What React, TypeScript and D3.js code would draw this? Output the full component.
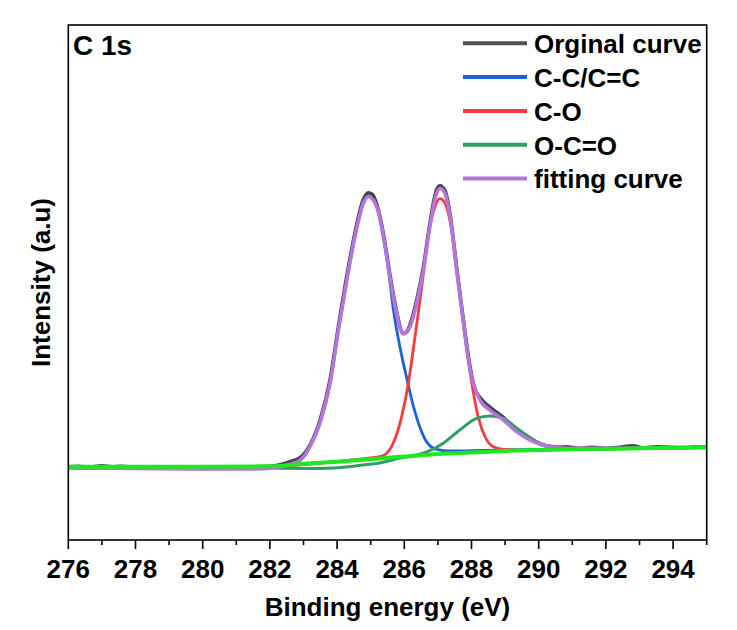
import React from "react";
import * as d3 from "d3";

type Pt = [number, number];

const xTicksMajor: number[] = [276, 278, 280, 282, 284, 286, 288, 290, 292, 294];
const xTicksMinor: number[] = [277, 279, 281, 283, 285, 287, 289, 291, 293, 295];

const originalCurve: Pt[] = [
  [276.0, 14.2], [276.3, 14.3], [276.6, 14.1], [277.0, 14.4], [277.3, 14.2], [277.6, 14.3],
  [278.0, 14.1], [278.5, 14.2], [279.0, 14.0], [279.5, 14.2], [280.0, 14.1], [280.5, 14.2],
  [281.0, 14.0], [281.5, 14.2], [282.0, 14.3], [282.3, 14.6], [282.6, 15.2], [282.9, 16.0],
  [283.19, 18.4], [283.49, 23.2], [283.79, 31.1], [284.04, 41.5], [284.29, 51.3], [284.53, 59.6],
  [284.78, 66.1], [284.93, 67.4], [285.05, 67.1], [285.18, 65.2], [285.38, 59.4], [285.57, 51.6],
  [285.77, 44.4], [285.97, 40.1], [286.07, 40.4], [286.17, 41.8], [286.37, 46.6], [286.57, 53.1],
  [286.76, 61.4], [286.96, 68.0], [287.06, 68.8], [287.21, 67.9], [287.36, 63.3], [287.56, 52.8],
  [287.76, 42.6], [287.96, 33.5], [288.1, 29.3], [288.25, 27.7], [288.4, 26.6], [288.55, 25.8],
  [288.75, 24.8], [288.95, 23.8], [289.15, 22.4], [289.35, 21.5], [289.6, 20.4], [289.84, 19.4],
  [290.1, 18.5], [290.34, 18.2], [290.6, 18.0], [290.83, 18.1], [291.2, 17.8], [291.6, 18.0],
  [292.0, 17.8], [292.4, 18.0], [292.8, 18.3], [293.1, 17.9], [293.5, 18.1], [293.9, 18.0],
  [294.3, 17.9], [294.7, 18.1], [295.0, 18.0],
];

const ccCurve: Pt[] = [
  [276, 14.0], [280, 13.8], [282.2, 14.1], [282.5, 14.5], [282.7, 14.9], [282.9, 15.5],
  [283.19, 18.1], [283.49, 22.7], [283.79, 30.4], [284.04, 40.8], [284.29, 50.5], [284.53, 58.9],
  [284.78, 65.4], [284.93, 66.7], [285.18, 64.7], [285.38, 58.7], [285.57, 50.3], [285.67, 45.0],
  [285.87, 37.5], [286.07, 31.5], [286.27, 26.0], [286.47, 21.8], [286.67, 19.0], [286.96, 17.6],
  [287.36, 17.3], [288.35, 17.4], [290.83, 17.7], [295, 18.0],
];

const coCurve: Pt[] = [
  [276, 14.2], [282, 14.3], [284, 15.2], [284.8, 15.8], [285.18, 16.1], [285.38, 16.4],
  [285.67, 18.8], [285.92, 23.9], [286.12, 30.4], [286.32, 39.5], [286.52, 49.2], [286.71, 58.9],
  [286.91, 64.7], [287.06, 66.3], [287.21, 65.4], [287.41, 60.2], [287.61, 50.5], [287.81, 39.5],
  [288.01, 30.4], [288.2, 23.9], [288.4, 20.1], [288.65, 18.1], [288.95, 17.6], [289.5, 17.4],
];

const occoCurve: Pt[] = [
  [276, 14.2], [280, 14.1], [281.5, 14.0], [283, 13.9], [283.9, 14.0], [284.7, 14.5],
  [285.3, 15.0], [285.88, 15.9], [286.3, 16.4], [286.67, 17.1], [287.16, 18.8], [287.66, 21.4],
  [288.15, 23.6], [288.55, 24.1], [288.95, 23.6], [289.35, 21.7], [289.84, 19.4], [290.34, 18.1],
  [290.83, 17.6], [292, 17.7], [295, 17.9],
];

const fitCurve: Pt[] = [
  [276, 14.0], [278, 13.9], [280, 13.8], [281.5, 13.8], [282.2, 14.1], [282.5, 14.5],
  [282.7, 14.9], [282.9, 15.5], [283.19, 18.1], [283.49, 22.7], [283.79, 30.4], [284.04, 40.8],
  [284.29, 50.5], [284.53, 58.9], [284.78, 65.4], [284.93, 66.7], [285.18, 64.7], [285.38, 58.9],
  [285.57, 51.1], [285.77, 44.0], [285.97, 40.0], [286.17, 41.4], [286.37, 46.0], [286.57, 52.4],
  [286.76, 60.8], [286.96, 67.3], [287.06, 68.3], [287.21, 67.3], [287.36, 62.8], [287.56, 52.4],
  [287.76, 42.1], [287.96, 33.0], [288.25, 27.2], [288.55, 25.2], [288.95, 23.3], [289.35, 21.0],
  [289.84, 19.1], [290.34, 18.1], [290.83, 17.8], [292, 17.8], [293.5, 17.9], [295, 18.0],
];

const backgroundCurve: Pt[] = [
  [276, 14.2], [280, 14.2], [282, 14.3], [283, 14.8], [284, 15.2], [285, 15.7], [286, 16.2],
  [287, 16.7], [288, 17.0], [289, 17.3], [291, 17.6], [293, 17.8], [295, 18.0],
];

const legendLabels: string[] = ["Orginal curve", "C-C/C=C", "C-O", "O-C=O", "fitting curve"];
const legendColors: string[] = ["#505050", "#1764dc", "#f83a3a", "#2f9e62", "#b574de"];

const FONT = "'Liberation Sans', Arial, sans-serif";

export default function App() {
  const left = 68.3, right = 706.7, top = 25, bottom = 540;
  const x = d3.scaleLinear().domain([276, 295]).range([left, right]);
  const y = d3.scaleLinear().domain([0, 100]).range([bottom, top]);
  const line = d3
    .line<Pt>()
    .x((d) => x(d[0]))
    .y((d) => y(d[1]))
    .curve(d3.curveMonotoneX);

  const series: { data: Pt[]; color: string; w: number }[] = [
    { data: originalCurve, color: "#474747", w: 3.6 },
    { data: ccCurve, color: "#1764dc", w: 2.8 },
    { data: coCurve, color: "#f83a3a", w: 2.8 },
    { data: occoCurve, color: "#2f9e62", w: 3 },
    { data: fitCurve, color: "#b574de", w: 3.6 },
    { data: backgroundCurve, color: "#1ee81e", w: 4 },
  ];

  return (
    <svg
      width={737}
      height={630}
      style={{ position: "absolute", left: 0, top: 0, background: "#ffffff" }}
      fontFamily={FONT}
    >
      <defs>
        <clipPath id="plotclip">
          <rect x={left} y={top} width={right - left} height={bottom - top} />
        </clipPath>
      </defs>
      <g clipPath="url(#plotclip)">
        {series.map((s, i) => (
          <path
            key={i}
            d={line(s.data) || ""}
            fill="none"
            stroke={s.color}
            strokeWidth={s.w}
            strokeLinejoin="round"
            strokeLinecap="round"
          />
        ))}
      </g>
      <rect
        x={left}
        y={top}
        width={right - left}
        height={bottom - top}
        fill="none"
        stroke="#000"
        strokeWidth={1.6}
      />
      {xTicksMajor.map((t) => (
        <g key={"M" + t}>
          <line x1={x(t)} x2={x(t)} y1={bottom} y2={bottom + 9} stroke="#000" strokeWidth={1.6} />
          <text
            x={x(t)}
            y={578}
            textAnchor="middle"
            fontSize={26}
            fontWeight="bold"
            fill="#000"
          >
            {t}
          </text>
        </g>
      ))}
      {xTicksMinor.map((t) => (
        <line key={"m" + t} x1={x(t)} x2={x(t)} y1={bottom} y2={bottom + 5} stroke="#000" strokeWidth={1.6} />
      ))}
      <text x={(left + right) / 2} y={616} textAnchor="middle" fontSize={26} fontWeight="bold" fill="#000">
        Binding energy (eV)
      </text>
      <text
        transform={`translate(50, ${(top + bottom) / 2}) rotate(-90)`}
        textAnchor="middle"
        fontSize={26}
        fontWeight="bold"
        fill="#000"
      >
        Intensity (a.u)
      </text>
      <text x={73} y={55} fontSize={28} fontWeight="bold" fill="#000">
        C 1s
      </text>
      {legendLabels.map((lab, i) => {
        const ly = 43.3 + i * 33.8;
        return (
          <g key={lab}>
            <line x1={463} x2={527} y1={ly} y2={ly} stroke={legendColors[i]} strokeWidth={4} />
            <text x={534} y={ly + 9.8} fontSize={26} fontWeight="bold" fill="#000">
              {lab}
            </text>
          </g>
        );
      })}
    </svg>
  );
}
